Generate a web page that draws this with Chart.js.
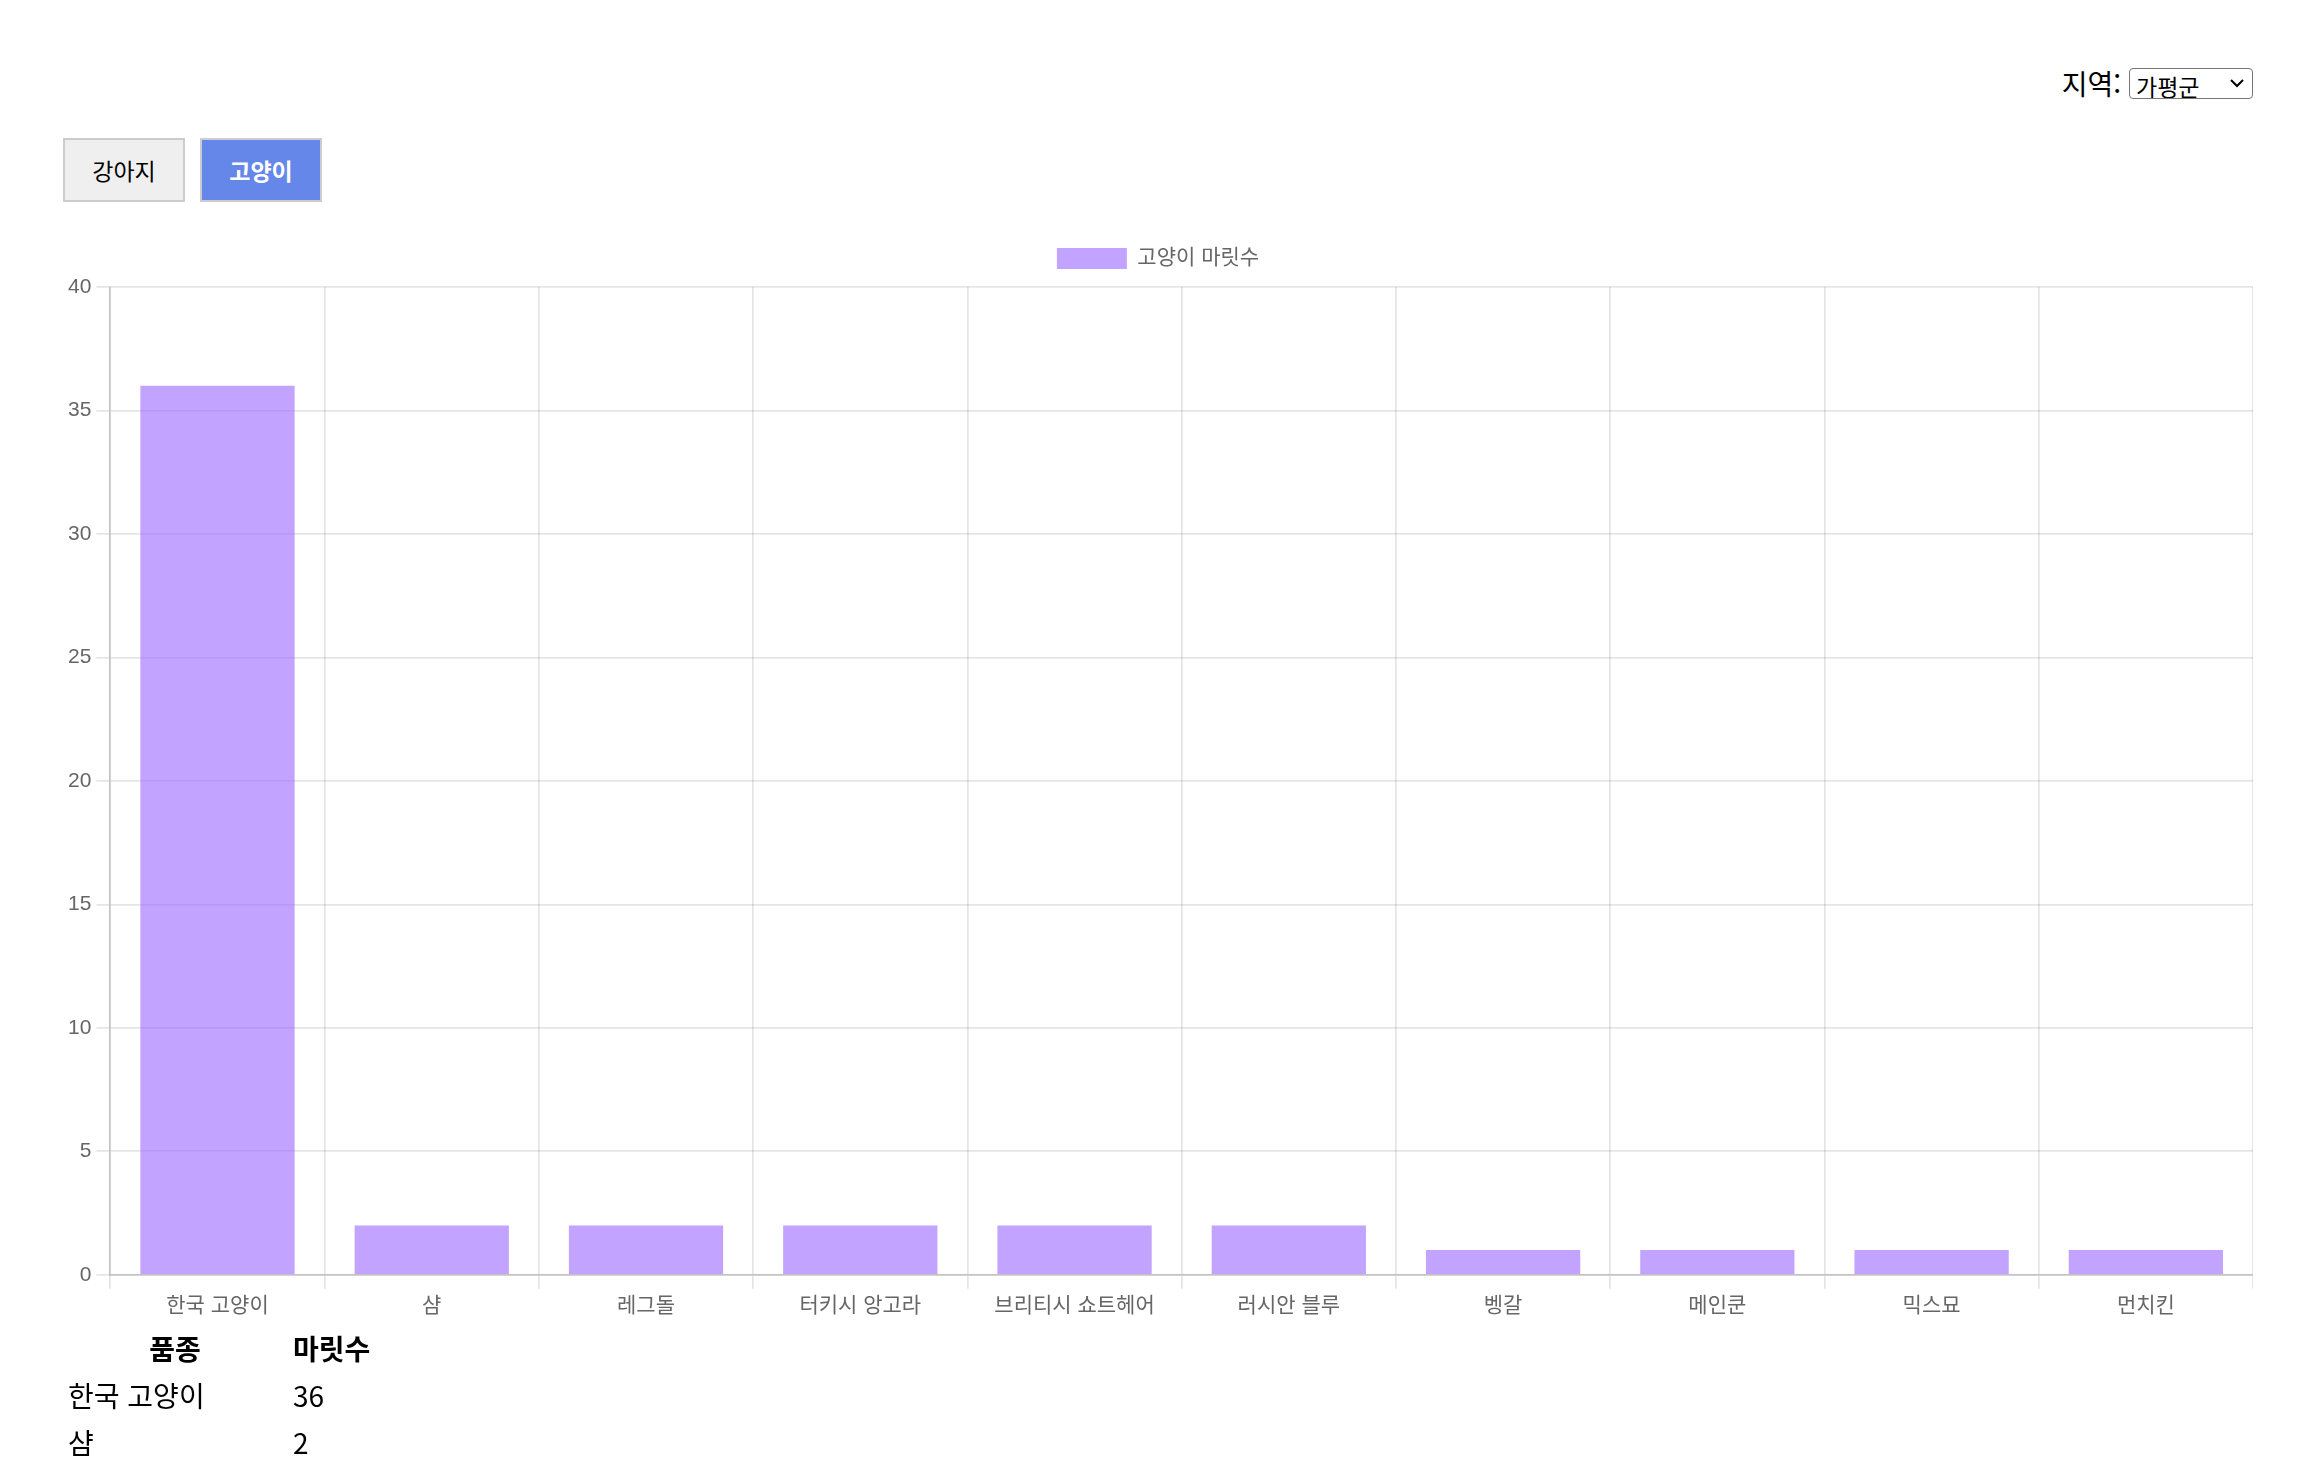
<!DOCTYPE html>
<html lang="ko">
<head>
<meta charset="utf-8">
<script src="https://cdn.jsdelivr.net/npm/chart.js"></script>
<style>
body{margin:0;background:#fff;font-family:"Noto Sans CJK KR","Noto Sans",sans-serif;color:#000;}
#region{position:absolute;right:62px;top:63px;font-size:28px;display:flex;align-items:center;}
#region select{margin-left:8px;font-size:23px;width:124px;height:31px;border:1px solid #767676;border-radius:4px;font-family:inherit;padding:0 4px 0 6px;
-webkit-appearance:none;appearance:none;color:#000;
background:#fff url("data:image/svg+xml;utf8,<svg xmlns='http://www.w3.org/2000/svg' width='14' height='9'><path d='M1 1 L7 7 L13 1' fill='none' stroke='black' stroke-width='2'/></svg>") no-repeat right 8px center;}
#tabs{position:absolute;left:63px;top:138px;}
#tabs button{width:122px;height:64px;font-size:23px;border:2px solid #ccc;background:#efefef;color:#000;font-family:inherit;margin-right:15px;cursor:pointer;}
#tabs button.on{background:#6687ea;color:#fff;font-weight:bold;}
#wrap{position:absolute;left:63px;top:221px;width:2190px;height:1103px;}
table{position:absolute;left:61px;top:1323px;font-size:28px;border-spacing:3px;}
th{padding:2px 4px;}
td{padding:2px 4px;}
</style>
</head>
<body>

<div id="region">지역: <select><option>가평군</option></select></div>

<div id="tabs">
<button>강아지</button><button class="on">고양이</button>
</div>

<div id="wrap"><canvas id="catChart"></canvas></div>

<table id="catTable">
<thead><tr><th>품종</th><th>마릿수</th></tr></thead>
<tbody></tbody>
</table>

<script>
/* cat data */

const breeds = ["한국 고양이","샴","레그돌","터키시 앙고라","브리티시 쇼트헤어","러시안 블루","벵갈","메인쿤","믹스묘","먼치킨"];
const counts = [36,2,2,2,2,2,1,1,1,1];
const yTicks = [0,5,10,15,20,25,30,35,40];


/* table */

let rows = "";
breeds.forEach((b,i) => {
rows += "<tr><td>" + b + "</td><td>" + counts[i] + "</td></tr>";
});
document.querySelector("#catTable tbody").innerHTML = rows;


/* chart */

Chart.defaults.font.size = 21;
Chart.defaults.font.family = "Arial, 'Liberation Sans', 'Noto Sans CJK KR', sans-serif";
Chart.defaults.color = "#666";

// a bit more room under the legend
const legendGap = {
id:"legendGap",
afterInit(chart){
const fit = chart.legend.fit;
chart.legend.fit = function(){
fit.call(this);
this.height += 8;
};
}
};

new Chart(document.getElementById("catChart"),{

type:"bar",

data:{
labels:breeds,
datasets:[{
label:"고양이 마릿수",
data:counts,
backgroundColor:"rgba(153, 102, 255, 0.6)",
borderWidth:0
}]
},

options:{
responsive:true,
maintainAspectRatio:false,
devicePixelRatio:1,
animation:false,
plugins:{
legend:{
labels:{boxWidth:70,boxHeight:21,padding:27}
}
},
scales:{
x:{
grid:{tickLength:14,lineWidth:1.75},
border:{width:1.75,color:"rgba(0,0,0,0.15)"},
ticks:{padding:5}
},
y:{
min:0,
max:yTicks[yTicks.length-1],
grid:{tickLength:14,lineWidth:1.75},
border:{width:1.75,color:"rgba(0,0,0,0.15)"},
ticks:{padding:5,stepSize:yTicks[1]-yTicks[0]}
}
}
},

plugins:[legendGap]

});
</script>
</body>
</html>
